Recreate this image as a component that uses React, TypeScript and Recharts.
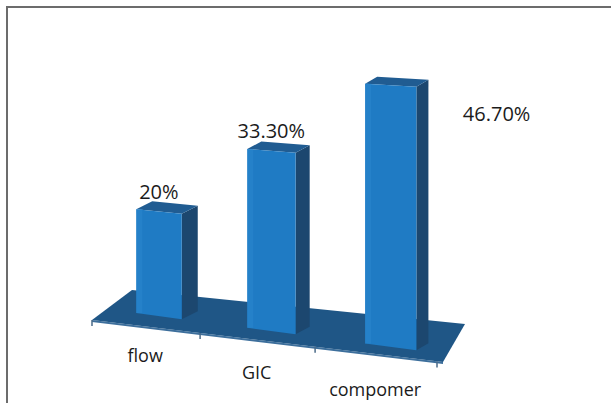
import React from "react";
import { BarChart, Bar, XAxis, YAxis, LabelList } from "recharts";

// values
const categories = ["flow", "GIC", "compomer"];
const percentages = [20, 33.3, 46.7];

const data = categories.map((name, i) => ({ name, value: percentages[i] }));

const CW = 611;
const CH = 403;
const MARGIN = { top: 38.6, right: 174, bottom: 65.8, left: 92 };
const XAXIS_H = 30;
const PLOT_W = CW - MARGIN.left - MARGIN.right;
const PLOT_BOTTOM = CH - MARGIN.bottom - XAXIS_H;

// fake 3d projection
const WARP = 0.09; // perspective squeeze along the category axis
const K_BAR = 0.133; // slope of bar bases
const K_FLOOR = 0.12; // slope of the floor front edge
const H_SCALE = 0.0003; // bars get taller toward the viewer
const DEPTH_SHIFT = 14; // bars sit back on the floor
const FLOOR_DROP = 12.8;

// manual label nudges (the last label was dragged aside)
const LABEL_NUDGE = [
  [0, 0],
  [0, 0],
  [106, 48],
];

const FRONT = "#1f7bc4";
const SIDE = "#1c476f";
const TOP = "#205c92";
const FLOOR = "#1f5686";

function warp(x: number) {
  const u = (x - MARGIN.left) / PLOT_W;
  return MARGIN.left + PLOT_W * (u - WARP * u * (1 - u));
}

function depth(X: number) {
  const t = (X - 158) / 234;
  return [16 - 4 * t, -8 + t];
}

function project(x2: number, h: number, base: number) {
  const X = warp(x2);
  const s = 1 + (X - 248) * H_SCALE;
  return [X, base + (X - MARGIN.left) * K_BAR - h * s];
}

const pts = (list: number[][]) => list.map((p) => p.join(",")).join(" ");

function Floor({ base }: { base: number }) {
  const xl = MARGIN.left;
  const xr = warp(MARGIN.left + PLOT_W);
  const y0 = base + FLOOR_DROP;
  const fl = [xl, y0];
  const fr = [xr + 6, y0 + (xr + 6 - xl) * K_FLOOR];
  const br = [fr[0] + 22, fr[1] - 38];
  const bl = [fl[0] + 40, fl[1] - 30];
  const ticks = [0, 1, 2, 3].map((i) => warp(MARGIN.left + (PLOT_W * i) / categories.length));
  return (
    <g>
      <polygon points={pts([fl, fr, [fr[0], fr[1] + 2], [fl[0], fl[1] + 2]])} fill="#3d6f9c" />
      <polygon points={pts([fl, fr, br, bl])} fill={FLOOR} />
      {ticks.map((X, i) => {
        const ty = y0 + (X - xl) * K_FLOOR;
        return <line key={i} x1={X} x2={X} y1={ty} y2={ty + 6} stroke="#4a6a88" strokeWidth={1.5} />;
      })}
    </g>
  );
}

function Box3D(props: any) {
  const { x, y, width, height, index } = props;
  const base = y + height;
  const cx = x + width / 2 + DEPTH_SHIFT;
  const xl = cx - width / 2;
  const xr = cx + width / 2;
  const fbl = project(xl, 0, base);
  const fbr = project(xr, 0, base);
  const ftl = project(xl, height, base);
  const ftr = project(xr, height, base);
  const [dx, dy] = depth(warp(cx));
  const add = (p: number[]) => [p[0] + dx, p[1] + dy];
  return (
    <g>
      {index === 0 && <Floor base={base} />}
      <polygon points={pts([fbr, ftr, add(ftr), add(fbr)])} fill={SIDE} />
      <polygon points={pts([ftl, ftr, add(ftr), add(ftl)])} fill={TOP} />
      <polygon points={pts([fbl, fbr, ftr, ftl])} fill={FRONT} />
      <polygon points={pts([fbl, [fbl[0] + 6, fbl[1]], [ftl[0] + 6, ftl[1]], ftl])} fill="#2a86cd" opacity={0.6} />
    </g>
  );
}

function ValueLabel(props: any) {
  const { x, y, width, height, value, index } = props;
  const base = y + height;
  const cx = x + width / 2 + DEPTH_SHIFT;
  const [X, topY] = project(cx, height, base);
  const [, dy] = depth(X);
  const [nx, ny] = LABEL_NUDGE[index] || [0, 0];
  const text = `${Number(value).toFixed(value % 1 ? 2 : 0)}%`;
  return (
    <text
      x={X + nx}
      y={topY + dy - 5 + ny}
      textAnchor="middle"
      fontFamily="'Open Sans', sans-serif"
      fontSize={20}
      fill="#1b1b1b"
    >
      {text}
    </text>
  );
}

function CategoryTick(props: any) {
  const { x, payload } = props;
  const X = warp(x);
  const yb = PLOT_BOTTOM + FLOOR_DROP + 34 + (X - MARGIN.left) * 0.15;
  return (
    <text x={X} y={yb} textAnchor="middle" fontFamily="'Open Sans', sans-serif" fontSize={18} fill="#1b1b1b">
      {payload.value}
    </text>
  );
}

export default function App() {
  return (
    <div style={{ position: "fixed", left: 0, top: 0, width: CW, height: CH, overflow: "hidden", background: "#fff" }}>
      <div
        style={{
          position: "absolute",
          left: 6,
          top: 6,
          width: 800,
          height: 600,
          borderTop: "2px solid #6c6c6c",
          borderLeft: "2px solid #6c6c6c",
        }}
      />
      <div style={{ position: "absolute", left: 0, top: 0 }}>
        <BarChart width={CW} height={CH} data={data} margin={MARGIN}>
          <XAxis
            dataKey="name"
            height={XAXIS_H}
            axisLine={false}
            tickLine={false}
            interval={0}
            tick={<CategoryTick />}
          />
          <YAxis hide domain={[0, 50]} />
          <Bar dataKey="value" barSize={48} shape={<Box3D />} isAnimationActive={false}>
            <LabelList dataKey="value" content={<ValueLabel />} />
          </Bar>
        </BarChart>
      </div>
    </div>
  );
}
